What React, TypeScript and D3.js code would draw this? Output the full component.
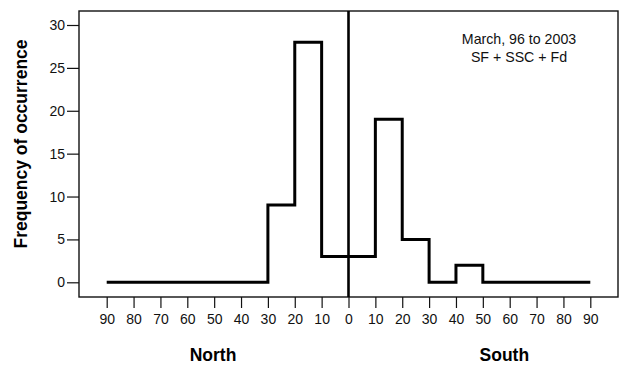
import { useRef, useEffect } from 'react';
import * as d3 from 'd3';

// bin edges in degrees, north negative, south positive
const binEdges = [-90, -80, -70, -60, -50, -40, -30, -20, -10, 0, 10, 20, 30, 40, 50, 60, 70, 80, 90];
// counts per 10 degree bin, north 90 -> south 90
const counts = [0, 0, 0, 0, 0, 0, 9, 28, 3, 3, 19, 5, 0, 2, 0, 0, 0, 0];
const yTicks = [0, 5, 10, 15, 20, 25, 30];
const noteLines = ['March, 96 to 2003', 'SF + SSC + Fd'];

const W = 619;
const H = 365;
const FONT = 'Liberation Sans, Arial, sans-serif';

export default function App() {
  const svgRef = useRef<SVGSVGElement>(null);

  useEffect(() => {
    const svg = d3.select(svgRef.current);
    svg.selectAll('*').remove();

    const box = { left: 79, top: 11, right: 618, bottom: 297 };

    const x = d3.scaleLinear().domain([-90, 90]).range([106.7, 590.3]);
    const y = d3.scaleLinear().domain([0, 30]).range([282.3, 25]);

    // frame
    svg.append('rect')
      .attr('x', box.left)
      .attr('y', box.top)
      .attr('width', box.right - box.left)
      .attr('height', box.bottom - box.top)
      .attr('fill', 'none')
      .attr('stroke', '#111')
      .attr('stroke-width', 1.4);

    // y axis
    const yAxis = svg.append('g')
      .attr('transform', 'translate(' + box.left + ',0)')
      .call(d3.axisLeft(y).tickValues(yTicks).tickSize(12).tickPadding(2));
    yAxis.select('.domain').remove();
    yAxis.selectAll('line').attr('stroke', '#111').attr('stroke-width', 1.2);
    yAxis.selectAll('text').attr('font-family', FONT).attr('font-size', 14).attr('fill', '#111');

    // x axis
    const xAxis = svg.append('g')
      .attr('transform', 'translate(0,' + box.bottom + ')')
      .call(d3.axisBottom(x).tickValues(binEdges).tickSize(11).tickPadding(6)
        .tickFormat(function (d) { return String(Math.abs(+d)); }));
    xAxis.select('.domain').remove();
    xAxis.selectAll('line').attr('stroke', '#111').attr('stroke-width', 1.2);
    xAxis.selectAll('text').attr('font-family', FONT).attr('font-size', 14).attr('fill', '#111');

    // equator line
    svg.append('line')
      .attr('x1', x(0)).attr('x2', x(0))
      .attr('y1', box.top).attr('y2', box.bottom)
      .attr('stroke', '#000')
      .attr('stroke-width', 2.6);

    // histogram as step line
    const pts: [number, number][] = binEdges.map(function (e, i) {
      return [e, i < counts.length ? counts[i] : counts[counts.length - 1]];
    });
    const line = d3.line<[number, number]>()
      .x(function (d) { return x(d[0]); })
      .y(function (d) { return y(d[1]); })
      .curve(d3.curveStepAfter);
    svg.append('path')
      .attr('d', line(pts))
      .attr('fill', 'none')
      .attr('stroke', '#000')
      .attr('stroke-width', 3)
      .attr('stroke-linejoin', 'miter');

    // note
    svg.append('g')
      .selectAll('text')
      .data(noteLines)
      .join('text')
      .attr('x', 519)
      .attr('y', function (d, i) { return 44 + i * 18; })
      .attr('text-anchor', 'middle')
      .attr('font-family', FONT)
      .attr('font-size', 14.2)
      .attr('fill', '#111')
      .text(function (d) { return d; });

    // axis titles
    svg.append('text')
      .attr('x', 213)
      .attr('y', 361)
      .attr('text-anchor', 'middle')
      .attr('font-family', FONT)
      .attr('font-size', 17.5)
      .attr('font-weight', 'bold')
      .text('North');
    svg.append('text')
      .attr('x', x(58))
      .attr('y', 361)
      .attr('text-anchor', 'middle')
      .attr('font-family', FONT)
      .attr('font-size', 17.5)
      .attr('font-weight', 'bold')
      .text('South');
    svg.append('text')
      .attr('transform', 'translate(27,144) rotate(-90)')
      .attr('text-anchor', 'middle')
      .attr('font-family', FONT)
      .attr('font-size', 17.5)
      .attr('font-weight', 'bold')
      .text('Frequency of occurrence');
  }, []);

  return (
    <svg
      ref={svgRef}
      width={W}
      height={H}
      style={{ position: 'absolute', left: 0, top: 0, background: '#fff' }}
    />
  );
}
